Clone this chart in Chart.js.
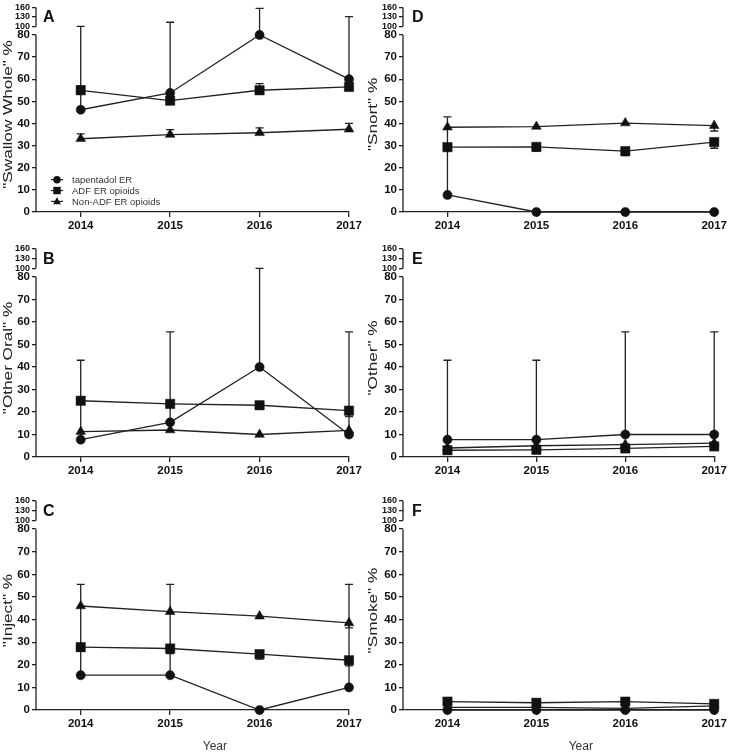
<!DOCTYPE html>
<html>
<head>
<meta charset="utf-8">
<script src="https://cdn.jsdelivr.net/npm/chart.js@4.4.1/dist/chart.umd.min.js"></script>
<style>
  body { margin: 0; background: #fff; }
  #wrap { position: relative; width: 729px; height: 752px; overflow: hidden; }
  canvas { position: absolute; }
</style>
</head>
<body>
<div id="wrap">
  <canvas id="pA" width="364" height="240" style="left:0;top:0"></canvas>
  <canvas id="pB" width="364" height="240" style="left:0;top:240px"></canvas>
  <canvas id="pC" width="364" height="272" style="left:0;top:480px"></canvas>
  <canvas id="pD" width="365" height="240" style="left:364px;top:0"></canvas>
  <canvas id="pE" width="365" height="240" style="left:364px;top:240px"></canvas>
  <canvas id="pF" width="365" height="272" style="left:364px;top:480px"></canvas>
</div>
<script>
// categories / labels
const years = [2014, 2015, 2016, 2017];
const seriesNames = ["tapentadol ER", "ADF ER opioids", "Non-ADF ER opioids"];
const yTicks = [0, 10, 20, 30, 40, 50, 60, 70, 80, 100, 130, 160];
const panelLetters = ["A", "B", "C", "D", "E", "F"];
const panelTitles = ['"Swallow Whole" %', '"Other Oral" %', '"Inject" %', '"Snort" %', '"Other" %', '"Smoke" %'];
const xTitle = "Year";

// A - swallow whole
const swallowTap = [46.2, 53.8, 80.0, 60.0];
const swallowTapHigh = [100, 113, 157, 131];
const swallowADF = [55.0, 50.3, 55.0, 56.5];
const swallowADFHigh = [57.0, null, 58.0, 57.8];
const swallowNon = [33.1, 35.0, 35.8, 37.4];
const swallowNonHigh = [35.3, 37.2, 38.0, 40.0];

// B - other oral
const oralTap = [7.7, 15.4, 40.0, 10.0];
const oralTapHigh = [43.0, 55.6, 100, 55.6];
const oralADF = [25.0, 23.6, 23.0, 20.6];
const oralADFLow = [null, null, 21.3, 18.0];
const oralNon = [11.3, 12.0, 10.0, 11.8];

// C - inject
const injectTap = [15.4, 15.4, 0.0, 10.0];
const injectTapHigh = [55.6, 55.6, null, 55.6];
const injectADF = [27.8, 27.2, 24.7, 22.0];
const injectADFLow = [26.0, 25.0, 22.5, 19.5];
const injectNon = [46.0, 43.5, 41.5, 38.5];
const injectNonLow = [null, null, null, 36.3];

// D - snort
const snortTap = [7.7, 0.0, 0.0, 0.0];
const snortTapHigh = [43.0, null, null, null];
const snortADF = [29.3, 29.4, 27.5, 31.6];
const snortADFLow = [null, 27.5, 25.5, 28.8];
const snortNon = [38.3, 38.6, 40.2, 39.0];
const snortNonLow = [null, null, null, 36.6];

// E - other
const otherTap = [7.7, 7.7, 10.0, 10.0];
const otherTapHigh = [43.0, 43.0, 55.6, 55.6];
const otherADF = [3.0, 3.2, 3.8, 4.7];
const otherNon = [4.0, 5.0, 5.5, 6.2];

// F - smoke
const smokeTap = [0.0, 0.0, 0.0, 0.0];
const smokeADF = [3.7, 3.2, 3.7, 2.7];
const smokeNon = [1.2, 1.2, 0.7, 1.8];

const FONT = 'Arial, "Liberation Sans", Helvetica, sans-serif';
Chart.defaults.font.family = FONT;
Chart.defaults.color = "#1a1a1a";

// broken y axis: 0-80 on most of the height, then a gap, then 100-160 squeezed on top
const LOW_FRAC = 180 / 208;
const GAP_FRAC = 8.7 / 208;

class BrokenScale extends Chart.LinearScale {
  getPixelForValue(value) {
    const h = this.bottom - this.top;
    const lowH = h * LOW_FRAC, gapH = h * GAP_FRAC, upH = h - lowH - gapH;
    if (value <= 80) return this.bottom - value / 80 * lowH;
    if (value <= 100) return this.bottom - lowH - (value - 80) / 20 * gapH;
    return this.bottom - lowH - gapH - (value - 100) / 60 * upH;
  }
  getValueForPixel(pixel) {
    const h = this.bottom - this.top;
    const lowH = h * LOW_FRAC, gapH = h * GAP_FRAC, upH = h - lowH - gapH;
    const d = this.bottom - pixel;
    if (d <= lowH) return d / lowH * 80;
    if (d <= lowH + gapH) return 80 + (d - lowH) / gapH * 20;
    return 100 + (d - lowH - gapH) / upH * 60;
  }
}
BrokenScale.id = "broken";
BrokenScale.defaults = Chart.LinearScale.defaults;
Chart.register(BrokenScale);

function drawMarker(ctx, style, x, y, s) {
  ctx.beginPath();
  if (style === "circle") {
    ctx.arc(x, y, s, 0, Math.PI * 2);
  } else if (style === "rect") {
    ctx.rect(x - s, y - s, s * 2, s * 2);
  } else {
    ctx.moveTo(x, y - s * 1.1);
    ctx.lineTo(x + s * 1.05, y + s * 0.8);
    ctx.lineTo(x - s * 1.05, y + s * 0.8);
    ctx.closePath();
  }
  ctx.fill();
}

const decoPlugin = {
  id: "deco",
  beforeDatasetsDraw(chart) {
    // error bars
    const ctx = chart.ctx;
    const yScale = chart.scales.y;
    ctx.save();
    ctx.strokeStyle = "#222";
    ctx.lineWidth = 1.3;
    chart.data.datasets.forEach((ds, di) => {
      const meta = chart.getDatasetMeta(di);
      meta.data.forEach((pt, i) => {
        [ds.errHigh, ds.errLow].forEach(arr => {
          if (!arr || arr[i] == null) return;
          const yy = yScale.getPixelForValue(arr[i]);
          ctx.beginPath();
          ctx.moveTo(pt.x, pt.y);
          ctx.lineTo(pt.x, yy);
          ctx.moveTo(pt.x - 4, yy);
          ctx.lineTo(pt.x + 4, yy);
          ctx.stroke();
        });
      });
    });
    ctx.restore();
  },
  afterDraw(chart, args, opts) {
    const ctx = chart.ctx;
    const y = chart.scales.y, x = chart.scales.x;
    const left = chart.chartArea.left;
    ctx.save();
    // broken axis line
    ctx.strokeStyle = "#222";
    ctx.lineWidth = 1.3;
    ctx.beginPath();
    ctx.moveTo(left, y.getPixelForValue(0));
    ctx.lineTo(left, y.getPixelForValue(80));
    ctx.moveTo(left, y.getPixelForValue(100));
    ctx.lineTo(left, y.getPixelForValue(160));
    ctx.stroke();

    // panel letter
    ctx.fillStyle = "#111";
    ctx.font = "bold 16px " + FONT;
    ctx.textAlign = "left";
    ctx.textBaseline = "alphabetic";
    ctx.fillText(opts.letter, left + opts.letterDx, chart.chartArea.top + 14.5);

    // y title (stretched along its length like the original figure)
    ctx.font = "13px " + FONT;
    ctx.fillStyle = "#222";
    ctx.textAlign = "center";
    ctx.textBaseline = "middle";
    ctx.translate(opts.titleX, y.getPixelForValue(40) - 9);
    ctx.rotate(-Math.PI / 2);
    ctx.scale(1.32, 1);
    ctx.fillText(opts.title, 0, 0);
    ctx.setTransform(1, 0, 0, 1, 0, 0);

    // x title
    if (opts.xTitle) {
      ctx.font = "12px " + FONT;
      ctx.fillStyle = "#333";
      ctx.textAlign = "center";
      ctx.textBaseline = "middle";
      ctx.fillText(opts.xTitle, x.getPixelForValue(2015.5), chart.height - 5);
    }

    // legend inside panel A
    if (opts.legend) {
      const styles = ["circle", "rect", "triangle"];
      ctx.font = "9.5px " + FONT;
      ctx.textAlign = "left";
      chart.data.datasets.forEach((ds, i) => {
        const ly = y.getPixelForValue(14.6 - i * 4.9);
        const lx = left + 21;
        ctx.strokeStyle = "#222";
        ctx.lineWidth = 1.2;
        ctx.beginPath();
        ctx.moveTo(lx - 6, ly);
        ctx.lineTo(lx + 6, ly);
        ctx.stroke();
        ctx.fillStyle = "#111";
        drawMarker(ctx, styles[i], lx, ly, 3.7);
        ctx.fillStyle = "#333";
        ctx.fillText(ds.label, left + 36, ly + 0.5);
      });
    }
    ctx.restore();
  }
};

function series(label, vals, style, radius, hi, lo) {
  return {
    label: label,
    data: years.map((yr, i) => ({ x: yr, y: vals[i] })),
    errHigh: hi || null,
    errLow: lo || null,
    borderColor: "#222",
    borderWidth: 1.3,
    backgroundColor: "#111",
    pointBackgroundColor: "#111",
    pointBorderColor: "#111",
    pointBorderWidth: 0.5,
    pointStyle: style,
    pointRadius: radius,
    tension: 0,
    clip: false
  };
}

function makePanel(id, idx, geo, tap, tapHi, tapLo, adf, adfHi, adfLo, non, nonHi, nonLo) {
  const ctx = document.getElementById(id).getContext("2d");
  new Chart(ctx, {
    type: "line",
    data: {
      datasets: [
        series(seriesNames[0], tap, "circle", 4.6, tapHi, tapLo),
        series(seriesNames[1], adf, "rect", 6.6, adfHi, adfLo),
        series(seriesNames[2], non, "triangle", 5.6, nonHi, nonLo)
      ]
    },
    options: {
      responsive: false,
      animation: false,
      events: [],
      layout: { padding: { left: 0, top: geo.top, right: geo.right, bottom: 0 } },
      plugins: {
        legend: { display: false },
        tooltip: { enabled: false },
        deco: {
          letter: panelLetters[idx],
          title: panelTitles[idx],
          titleX: geo.titleX,
          letterDx: geo.letterDx,
          xTitle: geo.year ? xTitle : null,
          legend: geo.legend
        }
      },
      scales: {
        x: {
          type: "linear",
          min: 2013.5,
          max: 2017,
          afterBuildTicks: s => { s.ticks = years.map(v => ({ value: v })); },
          afterFit: s => { s.height = geo.xh; },
          border: { display: true, color: "#222", width: 1.3 },
          grid: { drawOnChartArea: false, drawTicks: true, tickLength: 5, color: "#222", lineWidth: 1.3 },
          ticks: {
            autoSkip: false,
            maxRotation: 0,
            padding: 2,
            color: "#111",
            font: { size: 11.5, weight: "bold" },
            callback: v => String(v)
          }
        },
        y: {
          type: "broken",
          min: 0,
          max: 160,
          afterBuildTicks: s => { s.ticks = yTicks.map(v => ({ value: v })); },
          afterFit: s => { s.width = geo.yw; },
          border: { display: false },
          grid: { drawOnChartArea: false, drawTicks: true, tickLength: 4, color: "#222", lineWidth: 1.3 },
          ticks: {
            autoSkip: false,
            padding: 2,
            color: "#111",
            font: c => (c.tick && c.tick.value >= 100) ? { size: 9, weight: "bold" } : { size: 11.5, weight: "bold" },
            callback: v => String(v)
          }
        }
      }
    },
    plugins: [decoPlugin]
  });
}

const geoA = { top: 4, right: 15, xh: 28, yw: 36, titleX: 8, letterDx: 7, legend: true };
const geoB = { top: 9, right: 15, xh: 23, yw: 36, titleX: 8, letterDx: 7 };
const geoC = { top: 21, right: 15, xh: 42, yw: 36, titleX: 8, letterDx: 7, year: true };
const geoD = { top: 4, right: 13, xh: 28, yw: 39, titleX: 9, letterDx: 9 };
const geoE = { top: 9, right: 13, xh: 23, yw: 39, titleX: 9, letterDx: 9 };
const geoF = { top: 21, right: 13, xh: 42, yw: 39, titleX: 9, letterDx: 9, year: true };

makePanel("pA", 0, geoA, swallowTap, swallowTapHigh, null, swallowADF, swallowADFHigh, null, swallowNon, swallowNonHigh, null);
makePanel("pB", 1, geoB, oralTap, oralTapHigh, null, oralADF, null, oralADFLow, oralNon, null, null);
makePanel("pC", 2, geoC, injectTap, injectTapHigh, null, injectADF, null, injectADFLow, injectNon, null, injectNonLow);
makePanel("pD", 3, geoD, snortTap, snortTapHigh, null, snortADF, null, snortADFLow, snortNon, null, snortNonLow);
makePanel("pE", 4, geoE, otherTap, otherTapHigh, null, otherADF, null, null, otherNon, null, null);
makePanel("pF", 5, geoF, smokeTap, null, null, smokeADF, null, null, smokeNon, null, null);
</script>
</body>
</html>
